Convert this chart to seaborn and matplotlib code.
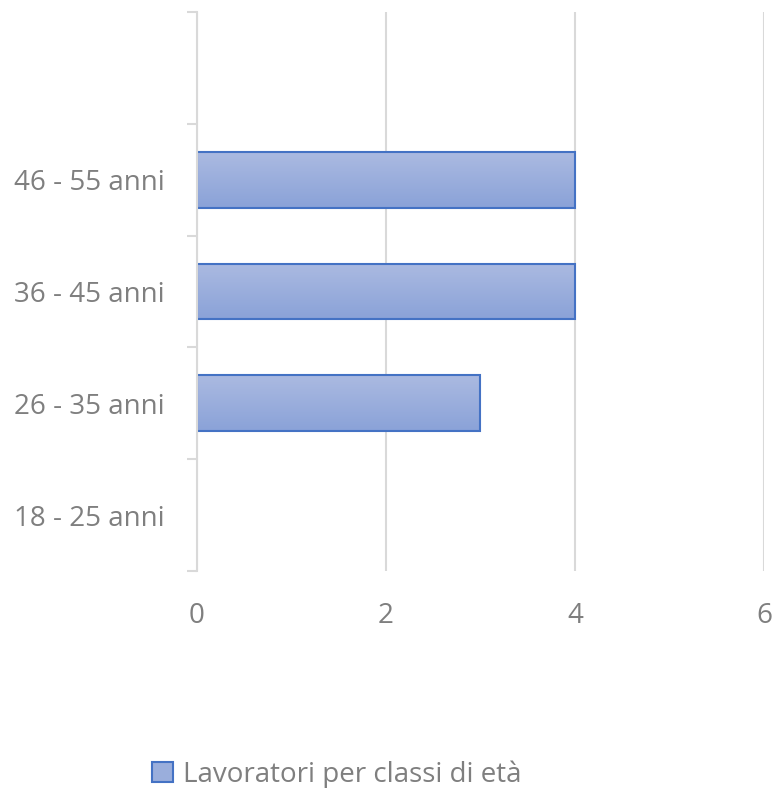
import numpy as np
import pandas as pd
import matplotlib
matplotlib.use("Agg")
import matplotlib.pyplot as plt
import seaborn as sns
from matplotlib.patches import Patch
from matplotlib.ticker import FixedLocator

# Data (top to bottom as shown; top slot is an empty, unlabelled class)
categories = [" ", "46 - 55 anni", "36 - 45 anni", "26 - 35 anni", "18 - 25 anni"]
workers = [0, 4, 4, 3, 0]
series_name = "Lavoratori per classi di età"

df = pd.DataFrame({"classe": categories, "lavoratori": workers})

sns.set_style("white")
plt.rcParams["font.family"] = ["Open Sans", "DejaVu Sans"]

grey_text = "#7f7f7f"
grid_col = "#d9d9d9"
edge_col = "#4472C4"

fig = plt.figure(figsize=(7.74, 7.88), dpi=100)
ax = fig.add_axes([0.2545, 0.2754, 0.7325, 0.7094])

sns.barplot(data=df, x="lavoratori", y="classe", order=categories,
            color="#9aaedc", edgecolor=edge_col, linewidth=1.5,
            width=0.5, ax=ax, zorder=3)

# vertical gradient fill for each bar (light top -> darker bottom)
grad = np.linspace(0, 1, 256).reshape(-1, 1)
cmap = matplotlib.colors.LinearSegmentedColormap.from_list("g", ["#abbae1", "#8aa2d8"])
for p in ax.patches:
    if p.get_width() <= 0:
        p.set_visible(False)
        continue
    x0, y0 = p.get_x(), p.get_y()
    w, h = p.get_width(), p.get_height()
    im = ax.imshow(grad, cmap=cmap, aspect="auto", zorder=3.5,
                   extent=[x0, x0 + w, y0 + h, y0], origin="upper")
    im.set_clip_path(p)
    p.set_facecolor("none")
    p.set_zorder(4)

ax.set_xlim(0, 6)
ax.set_ylim(4.5, -0.5)
ax.set_xticks([0, 2, 4, 6])
ax.set_xlabel("")
ax.set_ylabel("")

ax.xaxis.grid(True, color=grid_col, linewidth=1.5, zorder=0)
ax.yaxis.grid(False)
for s in ["top", "right", "bottom"]:
    ax.spines[s].set_visible(False)
ax.spines["left"].set_color(grid_col)
ax.spines["left"].set_linewidth(1.5)
ax.spines["left"].set_zorder(5)

ax.tick_params(axis="x", length=0, pad=22, labelsize=20, labelcolor=grey_text)
ax.tick_params(axis="y", which="major", left=True, length=0, pad=23,
               labelsize=20, labelcolor=grey_text)
ax.yaxis.set_minor_locator(FixedLocator(np.arange(-0.5, 5.0, 1.0)))
ax.tick_params(axis="y", which="minor", left=True, length=7, width=1.5, color=grid_col)

handles = [Patch(facecolor="#9aaedc", edgecolor=edge_col, linewidth=1.5, label=series_name)]
fig.legend(handles=handles, loc="center", bbox_to_anchor=(0.435, 0.017),
           frameon=False, fontsize=20, labelcolor=grey_text,
           handlelength=0.75, handleheight=0.75, handletextpad=0.35)

fig.savefig("out.png", dpi=100)
